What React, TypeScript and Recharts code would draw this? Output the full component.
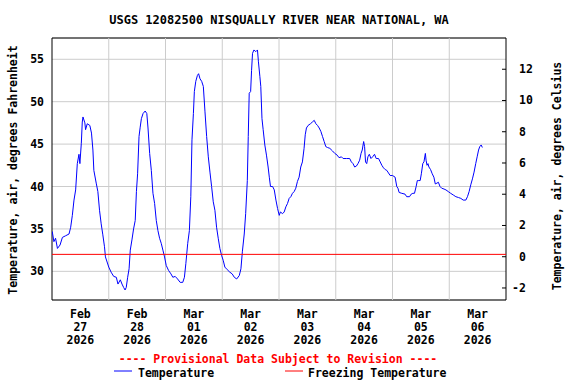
import { CartesianGrid, Line, LineChart, ReferenceArea, ReferenceLine, XAxis, YAxis } from 'recharts';

// hours since Feb 27 2026 00:00, and air temperature in degrees F
const hours = [
  0.1, 0.8, 1.5, 2.3, 3.4, 4.4, 5.8, 7.2, 7.9, 8.6, 9.3, 10.0, 10.7, 11.4, 11.8, 12.4, 12.8, 13.1, 13.9, 14.2,
  14.9, 16.0, 16.7, 17.3, 17.7, 18.7, 19.4, 20.1, 20.8, 21.5, 22.2, 22.6, 23.3, 24.0, 25.0, 26.1, 27.2, 27.9,
  28.9, 29.6, 30.3, 30.9, 31.4, 32.0, 32.6, 33.1, 33.8, 34.5, 35.2, 35.7, 36.2, 36.8, 37.3, 37.8, 38.5, 39.4,
  40.1, 40.6, 41.3, 42.0, 42.7, 43.4, 44.1, 44.8, 45.5, 46.2, 46.9, 47.6, 48.3, 49.3, 50.3, 51.1, 52.1, 53.1,
  54.2, 55.3, 56.0, 56.6, 57.4, 58.1, 58.7, 59.2, 59.8, 60.2, 60.8, 61.5, 62.0, 62.6, 63.3, 64.0, 64.7, 65.4,
  66.1, 66.8, 67.5, 68.2, 68.9, 69.6, 70.3, 71.0, 71.7, 72.4, 73.1, 74.1, 75.2, 76.2, 77.1, 78.1, 79.2, 79.9,
  80.5, 81.3, 81.9, 82.6, 83.0, 83.4, 84.0, 84.4, 84.8, 85.4, 86.2, 86.9, 87.3, 87.9, 88.3, 88.8, 89.3, 90.0,
  90.7, 91.4, 91.9, 92.4, 93.3, 94.0, 94.7, 95.4, 96.1, 96.6, 97.5, 98.2, 98.9, 99.6, 100.3, 101.0, 101.7,
  102.4, 103.1, 103.8, 104.5, 105.2, 105.9, 106.6, 107.1, 107.6, 108.3, 109.3, 110.1, 110.9, 111.6, 112.3,
  113.0, 113.7, 114.4, 115.1, 115.8, 116.5, 117.5, 118.6, 119.6, 120.6, 121.4, 122.4, 123.1, 124.5, 125.9,
  126.6, 127.3, 128.0, 128.7, 129.4, 130.1, 130.7, 131.2, 131.8, 132.2, 132.6, 133.1, 133.6, 134.2, 134.9,
  135.6, 136.4, 137.1, 138.1, 138.8, 139.5, 140.2, 140.9, 141.6, 142.3, 143.0, 144.0, 145.1, 145.8, 146.3,
  146.8, 147.9, 149.3, 150.0, 151.2, 151.9, 152.6, 153.3, 154.0, 154.5, 155.1, 155.7, 156.2, 156.8, 157.3,
  157.9, 158.2, 158.6, 159.0, 159.4, 160.1, 160.8, 161.5, 162.1, 162.8, 163.4, 164.1, 164.8, 165.8, 166.6,
  167.6, 168.6, 169.7, 170.8, 171.9, 172.9, 173.9, 175.0, 175.7, 176.4, 177.1, 177.8, 178.5, 179.2, 179.8,
  180.4, 180.9, 181.5, 182.0,
];

const tempF = [
  34.7, 33.5, 33.9, 32.7, 33.1, 34.0, 34.2, 34.4, 35.2, 36.6, 38.4, 39.6, 42.7, 43.8, 42.7, 45.1, 47.6, 48.2, 47.5, 46.7,
  47.4, 47.2, 46.3, 44.3, 41.9, 40.4, 39.4, 37.2, 35.6, 34.3, 32.9, 31.7, 31.1, 30.5, 29.9, 29.4, 29.3, 28.5,
  29.0, 28.5, 28.1, 27.8, 28.1, 29.3, 30.3, 32.5, 33.7, 35.0, 36.0, 39.4, 41.5, 45.9, 47.0, 48.0, 48.6, 48.9,
  48.6, 46.9, 43.9, 41.9, 39.2, 38.0, 36.0, 34.8, 33.9, 33.3, 32.5, 31.7, 30.7, 30.1, 29.7, 29.3, 29.4, 29.1,
  28.7, 28.7, 29.3, 30.9, 33.3, 34.8, 38.8, 45.5, 48.6, 51.2, 52.4, 53.1, 53.3, 52.7, 52.4, 51.8, 48.8, 45.9,
  43.5, 41.7, 40.0, 38.2, 37.2, 35.2, 33.9, 32.7, 31.9, 31.3, 30.5, 30.2, 29.9, 29.7, 29.3, 29.1, 29.5, 30.3,
  32.3, 34.4, 36.8, 40.7, 45.9, 51.0, 51.2, 53.7, 55.7, 56.1, 55.9, 56.1, 54.7, 53.0, 51.8, 48.0, 46.7, 44.9,
  43.7, 42.3, 41.1, 40.0, 40.0, 39.6, 38.4, 37.4, 36.6, 37.0, 36.8, 37.0, 37.6, 38.0, 38.6, 38.8, 39.2,
  39.4, 39.8, 40.6, 41.1, 42.3, 42.9, 44.5, 46.1, 46.9, 47.2, 47.4, 47.6, 47.8, 47.4, 47.2,
  46.9, 46.5, 45.9, 45.3, 44.7, 44.6, 44.5, 44.2, 43.9, 43.7, 43.4, 43.5, 43.3, 43.3, 43.3,
  42.9, 42.7, 42.3, 42.4, 42.7, 43.1, 43.9, 44.3, 45.3, 44.7, 42.9, 42.7, 43.5, 43.8, 43.3,
  43.5, 43.8, 43.3, 43.3, 42.9, 42.5, 42.2, 42.0, 41.9, 41.6, 41.3, 41.3, 41.1, 40.0, 39.8,
  39.3, 39.2, 39.1, 38.8, 38.8, 39.1, 39.2, 39.2, 40.0, 40.7, 40.7, 40.7, 41.5, 42.7, 42.9,
  43.9, 43.1, 42.5, 42.7, 42.3, 42.0, 41.5, 41.1, 40.3, 40.4, 40.5, 40.0, 39.8, 39.7, 39.6,
  39.4, 39.2, 39.0, 38.8, 38.7, 38.6, 38.4, 38.4, 38.8, 39.4, 40.2, 40.9, 41.7, 42.7, 43.5,
  44.3, 44.7, 44.9, 44.6,
];

const noonHours = [12, 36, 60, 84, 108, 132, 156, 180];
const midnightHours = [24, 48, 72, 96, 120, 144, 168];
const tickMonths = ['Feb', 'Feb', 'Mar', 'Mar', 'Mar', 'Mar', 'Mar', 'Mar'];
const tickDays = ['27', '28', '01', '02', '03', '04', '05', '06'];
const tickYear = '2026';
const fTicks = [30, 35, 40, 45, 50, 55];
const cTicks = [-2, 0, 2, 4, 6, 8, 10, 12];
const FREEZING_F = 32;

const F_DOMAIN: [number, number] = [26.62, 57.51];
const C_DOMAIN: [number, number] = [-2.77, 14.0];
const X_DOMAIN: [number, number] = [0, 192];

// same readings in Celsius, only so the right axis has a series to belong to
const data = hours.map((h, i) => ({ h, t: tempF[i], c: (tempF[i] - 32) / 1.8 }));

const FONT = '"DejaVu Sans Mono", monospace';
const textStyle = { fontFamily: FONT, fontSize: 11.5, fontWeight: 'bold' as const };

function DateTick({ x, y, index }: any) {
  return (
    <g style={textStyle}>
      <text x={x} y={y + 6} textAnchor="middle" dominantBaseline="central" fill="#000">
        {tickMonths[index]}
      </text>
      <text x={x} y={y + 19} textAnchor="middle" dominantBaseline="central" fill="#000">
        {tickDays[index]}
      </text>
      <text x={x} y={y + 32} textAnchor="middle" dominantBaseline="central" fill="#000">
        {tickYear}
      </text>
    </g>
  );
}

// x arrives already pushed out by tickSize + tickMargin (4 + 9)
function renderCelsiusTick(props: any) {
  const { x, y, payload } = props;
  const v = payload.value;
  return (
    <g key={`c-${v}`}>
      <line x1={x - 17} x2={x - 13} y1={y} y2={y} stroke="#000" />
      <text
        x={x - (v < 0 ? 7 : 0)}
        y={y}
        dominantBaseline="central"
        fill="#000"
        style={textStyle}
      >
        {v}
      </text>
    </g>
  );
}

export default function App() {
  return (
    <div style={{ position: 'absolute', left: 0, top: 0, width: 576, height: 384, background: '#fff' }}>
      <LineChart
        width={576}
        height={384}
        data={data}
        margin={{ top: 38, right: 10, bottom: 34, left: 8 }}
      >
        <CartesianGrid yAxisId="f" vertical={false} stroke="#cccccc" />
        <XAxis
          dataKey="h"
          type="number"
          domain={X_DOMAIN}
          allowDataOverflow
          ticks={noonHours}
          interval={0}
          height={50}
          axisLine={false}
          tickLine={false}
          tick={<DateTick />}
        />
        <YAxis
          yAxisId="f"
          orientation="left"
          type="number"
          domain={F_DOMAIN}
          allowDataOverflow
          ticks={fTicks}
          interval={0}
          width={44}
          axisLine={false}
          tickLine={false}
          tick={{ ...textStyle, fill: '#000' }}
        />
        <YAxis
          yAxisId="c"
          orientation="right"
          type="number"
          domain={C_DOMAIN}
          allowDataOverflow
          ticks={cTicks}
          interval={0}
          width={60}
          axisLine={false}
          tickLine={false}
          tickSize={4}
          tickMargin={9}
          tick={renderCelsiusTick}
        />
        {midnightHours.map((h) => (
          <ReferenceLine key={h} yAxisId="f" x={h} stroke="#cccccc" />
        ))}
        <Line
          yAxisId="c"
          dataKey="c"
          type="linear"
          stroke="none"
          dot={false}
          activeDot={false}
          legendType="none"
          isAnimationActive={false}
        />
        <Line
          yAxisId="f"
          dataKey="t"
          type="linear"
          stroke="#0000ff"
          strokeWidth={1}
          dot={false}
          isAnimationActive={false}
        />
        <ReferenceLine yAxisId="f" y={FREEZING_F} stroke="#ff0000" />
        <ReferenceArea
          yAxisId="f"
          x1={X_DOMAIN[0]}
          x2={X_DOMAIN[1]}
          y1={F_DOMAIN[0]}
          y2={F_DOMAIN[1]}
          fill="none"
          stroke="#000"
          strokeWidth={1}
        />
      </LineChart>
      <svg
        width={576}
        height={384}
        style={{ position: 'absolute', left: 0, top: 0, pointerEvents: 'none' }}
      >
        <g style={textStyle} fill="#000">
          <text x={279} y={20} textAnchor="middle" dominantBaseline="central" style={{ fontSize: 12 }}>
            USGS 12082500 NISQUALLY RIVER NEAR NATIONAL, WA
          </text>
          <text
            transform="translate(13,170) rotate(-90)"
            textAnchor="middle"
            dominantBaseline="central"
          >
            Temperature, air, degrees Fahrenheit
          </text>
          <text
            transform="translate(557,176) rotate(-90)"
            textAnchor="middle"
            dominantBaseline="central"
          >
            Temperature, air, degrees Celsius
          </text>
          <text x={278} y={359} textAnchor="middle" dominantBaseline="central" fill="#ff0000">
            ---- Provisional Data Subject to Revision ----
          </text>
          <line x1={114} x2={132} y1={371} y2={371} stroke="#0000ff" />
          <text x={138} y={372.5} dominantBaseline="central">
            Temperature
          </text>
          <line x1={285} x2={303} y1={371} y2={371} stroke="#ff0000" />
          <text x={308} y={372.5} dominantBaseline="central">
            Freezing Temperature
          </text>
        </g>
      </svg>
    </div>
  );
}
